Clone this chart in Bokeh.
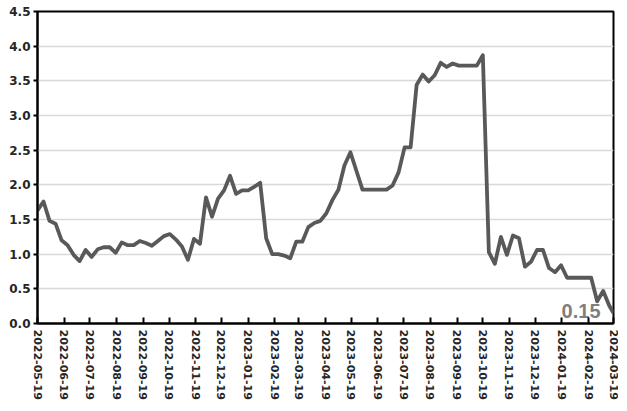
import math
import pandas as pd
from bokeh.plotting import figure
from bokeh.models import Range1d, FixedTicker, ColumnDataSource
from bokeh.core.properties import value
from bokeh.embed import file_html
from bokeh.resources import INLINE

# ---- data ----
start_date = "2022-05-19"
weekly_values = [
    1.63, 1.76, 1.48, 1.44, 1.20, 1.13, 0.99, 0.90, 1.06, 0.96,
    1.07, 1.10, 1.10, 1.02, 1.17, 1.13, 1.13, 1.19, 1.16, 1.12,
    1.19, 1.26, 1.29, 1.21, 1.11, 0.92, 1.22, 1.15, 1.82, 1.54,
    1.80, 1.92, 2.13, 1.87, 1.92, 1.92, 1.97, 2.03, 1.23, 1.00,
    1.00, 0.98, 0.94, 1.18, 1.18, 1.39, 1.45, 1.48, 1.59, 1.78,
    1.93, 2.28, 2.47, 2.20, 1.93, 1.93, 1.93, 1.93, 1.93, 1.99,
    2.18, 2.54, 2.54, 3.44, 3.59, 3.49, 3.58, 3.76, 3.70, 3.75,
    3.72, 3.72, 3.72, 3.72, 3.87, 1.03, 0.86, 1.25, 0.99, 1.27,
    1.23, 0.82, 0.89, 1.06, 1.06, 0.80, 0.74, 0.84, 0.66, 0.66,
    0.66, 0.66, 0.66, 0.32, 0.47, 0.26,
]
last_date = "2024-03-19"
last_value = 0.15
last_label = "0.15"

tick_labels = [
    "2022-05-19", "2022-06-19", "2022-07-19", "2022-08-19", "2022-09-19",
    "2022-10-19", "2022-11-19", "2022-12-19", "2023-01-19", "2023-02-19",
    "2023-03-19", "2023-04-19", "2023-05-19", "2023-06-19", "2023-07-19",
    "2023-08-19", "2023-09-19", "2023-10-19", "2023-11-19", "2023-12-19",
    "2024-01-19", "2024-02-19", "2024-03-19",
]
y_ticks = [0.0, 0.5, 1.0, 1.5, 2.0, 2.5, 3.0, 3.5, 4.0, 4.5]

# ---- build ----
dates = list(pd.date_range(start_date, periods=len(weekly_values), freq="7D"))
dates.append(pd.Timestamp(last_date))
vals = weekly_values + [last_value]
src = ColumnDataSource(dict(x=dates, y=vals))

def ms(s):
    return pd.Timestamp(s).value / 1e6

tick_ms = [ms(t) for t in tick_labels]

p = figure(width=618, height=402, x_axis_type="datetime",
           output_backend="svg", toolbar_location=None,
           x_range=Range1d(ms(start_date), ms(last_date)),
           y_range=Range1d(0, 4.5),
           min_border_left=37, min_border_right=5,
           min_border_top=11, min_border_bottom=10)
p.background_fill_color = "white"
p.border_fill_color = "white"
p.outline_line_color = "black"
p.outline_line_width = 2

p.line("x", "y", source=src, line_color="#595959", line_width=3.8,
       line_join="round")

p.text(x=[dates[-1]], y=[vals[-1]], text=[last_label],
       text_font=value("Liberation Sans"), text_font_style="bold",
       text_font_size="20px", text_color="#7f7f7f",
       text_align="right", text_baseline="middle",
       x_offset=-13, y_offset=-2)

# grid
p.xgrid.visible = False
p.ygrid.ticker = FixedTicker(ticks=y_ticks)
p.ygrid.grid_line_color = "#d9d9d9"
p.ygrid.grid_line_width = 1.5

# y axis
ya = p.yaxis[0]
ya.ticker = FixedTicker(ticks=y_ticks)
ya.major_label_overrides = {t: f"{t:.1f}" for t in y_ticks}
ya.major_label_text_font = "DejaVu Sans"
ya.major_label_text_font_style = "bold"
ya.major_label_text_font_size = "12px"
ya.major_label_text_color = "#262626"
ya.axis_line_color = "black"
ya.axis_line_width = 2
ya.major_tick_in = 0
ya.major_tick_out = 4
ya.major_tick_line_width = 2
ya.minor_tick_line_color = None
ya.major_label_standoff = 3

# x axis
xa = p.xaxis[0]
xa.ticker = FixedTicker(ticks=tick_ms)
xa.major_label_overrides = {t: lab for t, lab in zip(tick_ms, tick_labels)}
xa.major_label_orientation = -math.pi / 2
xa.major_label_text_font = "DejaVu Sans"
xa.major_label_text_font_style = "bold"
xa.major_label_text_font_size = "11px"
xa.major_label_text_color = "#262626"
xa.axis_line_color = "black"
xa.axis_line_width = 2
xa.major_tick_in = 6
xa.major_tick_out = 0
xa.major_tick_line_width = 2
xa.minor_tick_line_color = None
xa.major_label_standoff = 6

open("out.html", "w").write(file_html(p, INLINE))
